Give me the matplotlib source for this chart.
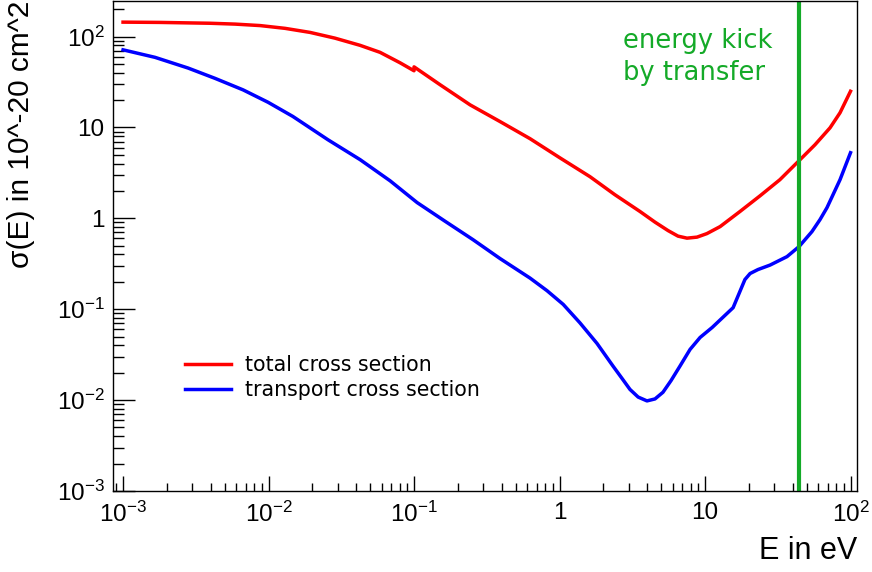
import matplotlib
matplotlib.use("Agg")
import matplotlib.pyplot as plt
from matplotlib.ticker import FixedLocator, NullFormatter, LogLocator

plt.rcParams['mathtext.fontset'] = 'custom'
plt.rcParams['mathtext.rm'] = 'Liberation Sans'
plt.rcParams['mathtext.it'] = 'Liberation Sans:italic'
plt.rcParams['mathtext.bf'] = 'Liberation Sans:bold'
plt.rcParams['mathtext.default'] = 'rm'

# ---- data ----
total_E = [0.001, 0.00179, 0.00396, 0.00589, 0.00875, 0.0130, 0.0193, 0.0286,
           0.0426, 0.0584, 0.0802, 0.1, 0.1, 0.151, 0.243, 0.390, 0.627, 1.01,
           1.62, 2.40, 3.57, 4.53, 5.57, 6.52, 7.52, 8.81, 10.3, 12.7, 17.4,
           23.9, 32.7, 44.3, 57.0, 72.3, 84.7, 100]
total_sigma = [144, 143, 140, 137, 132, 123, 111, 96.0,
               80.0, 67.0, 51.4, 42.0, 46.4, 29.5, 17.7, 11.6, 7.52, 4.61,
               2.87, 1.82, 1.19, 0.908, 0.733, 0.637, 0.605, 0.621, 0.679, 0.811, 1.19,
               1.77, 2.66, 4.31, 6.45, 9.9, 14.5, 25.0]

transport_E = [0.001, 0.00166, 0.00280, 0.00428, 0.00668, 0.00993, 0.0147,
               0.0256, 0.0426, 0.0684, 0.105, 0.163, 0.254, 0.390, 0.627,
               0.820, 1.06, 1.38, 1.81, 2.33, 2.69, 3.05, 3.47, 3.99, 4.53,
               5.14, 5.84, 6.73, 7.89, 9.25, 11.2, 15.6, 18.8, 20.4, 23.1,
               28.0, 36.6, 44.3, 54.3, 61.7, 68.9, 84.7, 100]
transport_sigma = [71.4, 59.0, 45.0, 34.7, 25.9, 18.9, 13.2,
                   7.32, 4.42, 2.59, 1.49, 0.931, 0.583, 0.361, 0.220,
                   0.160, 0.113, 0.0709, 0.0420, 0.0237, 0.0173, 0.0131, 0.0108, 0.0098, 0.0103,
                   0.0122, 0.0164, 0.0237, 0.0361, 0.0489, 0.0630, 0.104, 0.212, 0.247, 0.273,
                   0.306, 0.379, 0.489, 0.714, 0.968, 1.31, 2.66, 5.27]

kick_energy = 44.3

series_labels = ["total cross section", "transport cross section"]
x_major = [1e-3, 1e-2, 1e-1, 1, 10, 100]
x_major_labels = [r'$10^{-3}$', r'$10^{-2}$', r'$10^{-1}$', '1', '10', r'$10^{2}$']
y_major = [1e-3, 1e-2, 1e-1, 1, 10, 100]
y_major_labels = [r'$10^{-3}$', r'$10^{-2}$', r'$10^{-1}$', '1', '10', r'$10^{2}$']

# ---- figure ----
W, H = 872, 572
fig = plt.figure(figsize=(W / 100, H / 100), dpi=100)
ax = fig.add_axes([113 / W, 1 - 491 / H, (857 - 113) / W, (491 - 1) / H])

ax.set_xscale('log')
ax.set_yscale('log')
ax.set_xlim(8.53e-4, 110.8)
ax.set_ylim(1e-3, 246)

ax.plot(total_E, total_sigma, color='#ff0000', lw=2.5, label=series_labels[0],
        solid_joinstyle='round')
ax.plot(transport_E, transport_sigma, color='#0000ff', lw=2.5, label=series_labels[1],
        solid_joinstyle='round')
ax.axvline(kick_energy, color='#14aa28', lw=3)

fig.text(623 / W, 1 - 48 / H, 'energy kick', color='#14aa28', fontsize=18.5,
         family='DejaVu Sans', va='baseline', ha='left')
fig.text(623 / W, 1 - 80 / H, 'by transfer', color='#14aa28', fontsize=18.5,
         family='DejaVu Sans', va='baseline', ha='left')

# ticks
ax.xaxis.set_major_locator(FixedLocator(x_major))
ax.set_xticklabels(x_major_labels)
ax.yaxis.set_major_locator(FixedLocator(y_major))
ax.set_yticklabels(y_major_labels)
ax.xaxis.set_minor_locator(LogLocator(base=10, subs=range(2, 10), numticks=20))
ax.yaxis.set_minor_locator(LogLocator(base=10, subs=range(2, 10), numticks=20))
ax.xaxis.set_minor_formatter(NullFormatter())
ax.yaxis.set_minor_formatter(NullFormatter())

ax.tick_params(axis='x', which='major', direction='in', length=11, width=1, pad=8,
               labelsize=17.5, top=False)
ax.tick_params(axis='x', which='minor', direction='in', length=5.5, width=1, top=False)
ax.tick_params(axis='y', which='major', direction='in', length=16, width=1, pad=6,
               labelsize=17.5, right=False)
ax.tick_params(axis='y', which='minor', direction='in', length=8, width=1, right=False)
for lbl in ax.get_xticklabels() + ax.get_yticklabels():
    lbl.set_family('Liberation Sans')

for s in ax.spines.values():
    s.set_linewidth(1)

fig.text(857 / W, 1 - 551 / H, 'E in eV', ha='right', va='center', fontsize=22,
         family='Liberation Sans')
fig.text(21 / W, 1 - 1 / H, 'σ(E) in 10^-20 cm^2', rotation=90, ha='center', va='top',
         fontsize=21.5, family='Liberation Sans')

leg = ax.legend(loc='upper left', bbox_to_anchor=(185 / W, 1 - 355 / H),
                bbox_transform=fig.transFigure, frameon=False,
                prop={'family': 'DejaVu Sans', 'size': 14.8},
                handlelength=2.25, handletextpad=0.65, labelspacing=0.25,
                borderpad=0, borderaxespad=0)

fig.savefig('out.png', dpi=100)
